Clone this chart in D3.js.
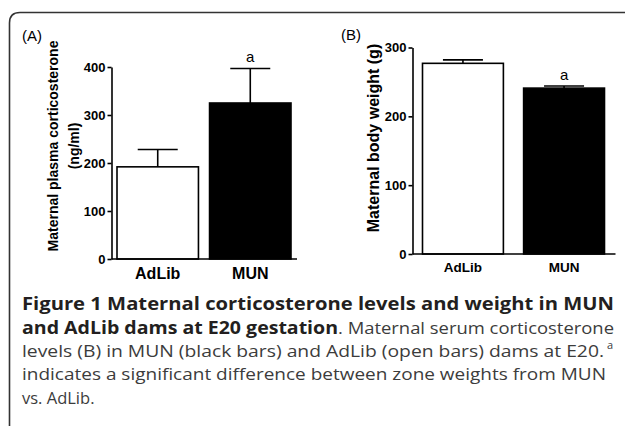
<!DOCTYPE html>
<html><head><meta charset="utf-8">
<script src="https://cdn.jsdelivr.net/npm/d3@7"></script>
<style>
html,body{margin:0;padding:0;background:#fff;}
svg{display:block;}
</style></head>
<body>
<svg id="c" width="625" height="426"></svg>
<script>
// ---- data ----
const groups = ["AdLib", "MUN"];
const corticoMean = [192, 325];
const corticoSem = [36, 72];
const weightMean = [277, 241];
const weightSem = [5, 3];
const corticoTicks = [0, 100, 200, 300, 400];
const weightTicks = [0, 100, 200, 300];
const barFill = ["#ffffff", "#000000"];
const sigMark = [null, "a"];

const svg = d3.select("#c");
const F = "Arial, 'Liberation Sans', Helvetica, sans-serif";

// frame (rounded top-left corner)
svg.append("path")
  .attr("d", "M9.5,426 L9.5,23 Q9.5,12.5 20,12.5 L625,12.5")
  .attr("fill", "none").attr("stroke", "#333").attr("stroke-width", 1.6);

function panel(opt) {
  const g = svg.append("g");
  const y = d3.scaleLinear().domain(opt.domain).range([opt.y0, opt.y1]);
  const x = d3.scaleBand().domain(groups).range(opt.xr)
    .paddingInner(opt.pad).paddingOuter(0);

  // bars
  g.selectAll("rect.bar").data(groups).join("rect")
    .attr("x", d => x(d))
    .attr("y", (d, i) => y(opt.mean[i]))
    .attr("width", x.bandwidth())
    .attr("height", (d, i) => y(0) - y(opt.mean[i]))
    .attr("fill", (d, i) => barFill[i])
    .attr("stroke", "#000").attr("stroke-width", 1.6);

  // error bars
  const capW = 40;
  groups.forEach((d, i) => {
    const cx = x(d) + x.bandwidth() / 2;
    g.append("line").attr("x1", cx).attr("x2", cx)
      .attr("y1", y(opt.mean[i])).attr("y2", y(opt.mean[i] + opt.sem[i]))
      .attr("stroke", "#000").attr("stroke-width", 1.6);
    g.append("line").attr("x1", cx - capW / 2).attr("x2", cx + capW / 2)
      .attr("y1", y(opt.mean[i] + opt.sem[i])).attr("y2", y(opt.mean[i] + opt.sem[i]))
      .attr("stroke", "#000").attr("stroke-width", 1.6);
    if (sigMark[i]) {
      g.append("text").attr("x", cx).attr("y", y(opt.mean[i] + opt.sem[i]) - opt.sigGap)
        .attr("text-anchor", "middle").attr("font-family", F)
        .attr("font-size", opt.sigSize).attr("fill", "#000").text(sigMark[i]);
    }
  });

  // y axis
  const ax = g.append("g").attr("transform", `translate(${opt.ax},0)`)
    .call(d3.axisLeft(y).tickValues(opt.ticks).tickSize(4).tickSizeOuter(0).tickPadding(2));
  ax.select(".domain").attr("stroke", "#000").attr("stroke-width", 1.6);
  ax.selectAll(".tick line").attr("stroke", "#000").attr("stroke-width", 1.6);
  ax.selectAll(".tick text").attr("font-family", F).attr("font-weight", "bold")
    .attr("font-size", opt.tickSize).attr("fill", "#000");

  // x axis line
  g.append("line").attr("x1", opt.ax).attr("x2", opt.xr[1] + opt.xExt)
    .attr("y1", y(0)).attr("y2", y(0))
    .attr("stroke", "#000").attr("stroke-width", 1.6);

  // x labels
  g.selectAll("text.xl").data(groups).join("text").attr("class", "xl")
    .attr("x", d => x(d) + x.bandwidth() / 2).attr("y", opt.xlY)
    .attr("text-anchor", "middle").attr("font-family", F).attr("font-weight", "bold")
    .attr("font-size", opt.xlSize).attr("fill", "#000").text(d => d);

  // y title
  const t = g.append("text").attr("transform", `translate(${opt.titleX},${opt.titleY}) rotate(-90)`)
    .attr("text-anchor", "middle").attr("font-family", F).attr("font-weight", "bold")
    .attr("font-size", opt.titleSize).attr("fill", "#000");
  opt.title.forEach((line, k) => {
    t.append("tspan").attr("x", 0).attr("dy", k === 0 ? 0 : opt.titleLH).text(line);
  });

  // panel letter
  svg.append("text").attr("x", opt.letterX).attr("y", opt.letterY)
    .attr("font-family", F).attr("font-size", 15).attr("fill", "#000").text(opt.letter);
}

panel({
  domain: [0, 400], y0: 259, y1: 67, xr: [117, 291], pad: 0.12, ax: 111.5, xExt: 6,
  mean: corticoMean, sem: corticoSem, ticks: corticoTicks, tickSize: 13,
  xlY: 279, xlSize: 16, sigGap: 6, sigSize: 15,
  title: ["Maternal plasma corticosterone", "(ng/ml)"], titleX: 58, titleY: 146,
  titleSize: 14, titleLH: 21, letter: "(A)", letterX: 22, letterY: 41
});

panel({
  domain: [0, 300], y0: 254, y1: 47.5, xr: [422.5, 604.5], pad: 0.2, ax: 412.5, xExt: 11,
  mean: weightMean, sem: weightSem, ticks: weightTicks, tickSize: 13,
  xlY: 272, xlSize: 13.5, sigGap: 6, sigSize: 15,
  title: ["Maternal body weight (g)"], titleX: 379, titleY: 138,
  titleSize: 16, titleLH: 0, letter: "(B)", letterX: 341, letterY: 40
});

// caption
const CF = "'Open Sans', 'Noto Sans', sans-serif";
const cap = svg.append("g").attr("font-family", CF).attr("fill", "#333");
const lines = [
  {y: 310, parts: [{t: "Figure 1 Maternal corticosterone levels and weight in MUN", b: true}], w: 592},
  {y: 334, parts: [{t: "and AdLib dams at E20 gestation", b: true}, {t: ". Maternal serum corticosterone", b: false}], w: 592},
  {y: 357, parts: [{t: "levels (B) in MUN (black bars) and AdLib (open bars) dams at E20. ", b: false}], w: 582, sup: "a"},
  {y: 380, parts: [{t: "indicates a significant difference between zone weights from MUN", b: false}], w: 584},
  {y: 404, parts: [{t: "vs. AdLib.", b: false}], w: null}
];
lines.forEach(L => {
  const tx = cap.append("text").attr("x", 22).attr("y", L.y);
  L.parts.forEach(p => {
    tx.append("tspan").attr("font-weight", p.b ? "bold" : "normal")
      .attr("fill", p.b ? "#231f20" : "#3c3c3c")
      .attr("font-size", p.b ? 17.5 : 16.5).text(p.t);
  });
  if (L.w) tx.attr("textLength", L.w).attr("lengthAdjust", "spacingAndGlyphs");
  if (L.sup) {
    cap.append("text").attr("x", 22 + L.w + 3).attr("y", L.y - 8)
      .attr("font-size", 11).attr("fill", "#3c3c3c").text(L.sup);
  }
});
</script>
</body></html>
